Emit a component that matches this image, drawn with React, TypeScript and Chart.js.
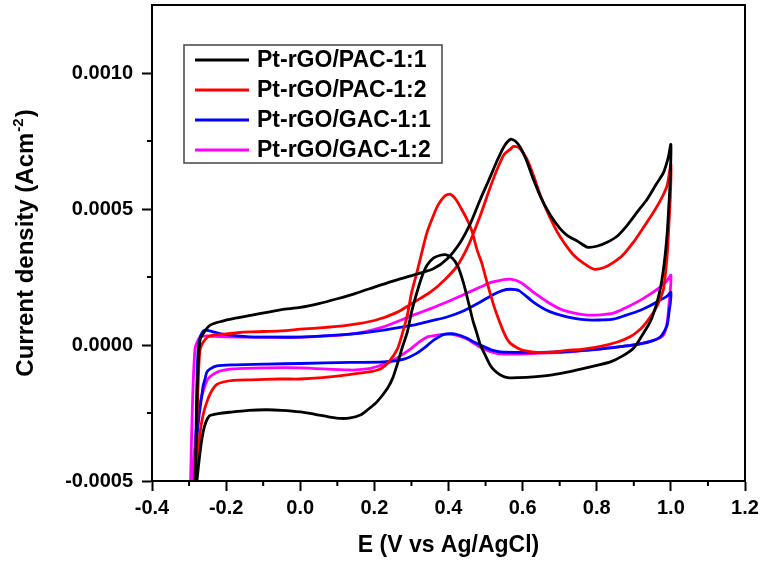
import { useEffect, useRef } from "react";
import { Chart, registerables } from "chart.js";

Chart.register(...registerables);

const FONT = '"Liberation Sans", Arial, sans-serif';

const seriesLabels = ["Pt-rGO/PAC-1:1", "Pt-rGO/PAC-1:2", "Pt-rGO/GAC-1:1", "Pt-rGO/GAC-1:2"];
const seriesColors = ["#000000", "#ff0000", "#0000ff", "#ff00ff"];

const xTicks = [-0.4, -0.2, 0.0, 0.2, 0.4, 0.6, 0.8, 1.0, 1.2];
const xMinor = [-0.3, -0.1, 0.1, 0.3, 0.5, 0.7, 0.9, 1.1];
const yTicks = [-0.0005, 0.0, 0.0005, 0.001];
const yMinor = [-0.00025, 0.00025, 0.00075];

// E in V vs Ag/AgCl, j in A cm^-2 ; forward scan then reverse scan
const pac11FwdE = [-0.29, -0.283, -0.278, -0.275, -0.27, -0.258, -0.243, -0.21, -0.181, -0.13, -0.09, -0.05, 0.0, 0.05, 0.1, 0.15, 0.2, 0.25, 0.305, 0.359, 0.396, 0.432, 0.46, 0.486, 0.51, 0.532, 0.55, 0.567, 0.58, 0.594, 0.61, 0.629, 0.65, 0.675, 0.7, 0.72, 0.75, 0.774, 0.8, 0.828, 0.855, 0.882, 0.91, 0.936, 0.96, 0.98, 0.993, 1.0];
const pac11FwdJ = [-0.0008, -0.0005, -0.00016, -0.00006, 0.00002, 0.00005, 0.000073, 0.000088, 0.000097, 0.00011, 0.00012, 0.00013, 0.000138, 0.000152, 0.00017, 0.00019, 0.000213, 0.000235, 0.000257, 0.00028, 0.000316, 0.000378, 0.00045, 0.000536, 0.00061, 0.00068, 0.00073, 0.000756, 0.00075, 0.000726, 0.00068, 0.000609, 0.00054, 0.000477, 0.00043, 0.000403, 0.00038, 0.00036, 0.000363, 0.000378, 0.0004, 0.00044, 0.00049, 0.000536, 0.00059, 0.000634, 0.00069, 0.000737];
const pac11RevE = [0.998, 0.994, 0.99, 0.982, 0.972, 0.96, 0.945, 0.92, 0.899, 0.87, 0.837, 0.8, 0.76, 0.72, 0.68, 0.629, 0.59, 0.56, 0.54, 0.525, 0.513, 0.5, 0.486, 0.475, 0.467, 0.455, 0.44, 0.425, 0.41, 0.392, 0.378, 0.36, 0.342, 0.328, 0.315, 0.3, 0.289, 0.275, 0.262, 0.25, 0.235, 0.207, 0.18, 0.162, 0.135, 0.11, 0.08, 0.04, 0.0, -0.05, -0.09, -0.14, -0.181, -0.21, -0.232, -0.245, -0.255, -0.262, -0.268, -0.275, -0.282, -0.29];
const pac11RevJ = [0.0006, 0.0005, 0.00041, 0.0003, 0.00021, 0.000145, 0.000088, 0.00003, -0.000012, -0.00004, -0.000062, -0.000075, -0.000088, -0.0001, -0.00011, -0.000117, -0.00012, -0.00012, -0.00011, -0.000095, -0.000075, -0.00004, 0.0, 0.00005, 0.000084, 0.00015, 0.00023, 0.00029, 0.00032, 0.000332, 0.00033, 0.00032, 0.000293, 0.00025, 0.000194, 0.00012, 0.000048, -0.00001, -0.00007, -0.00012, -0.00016, -0.000209, -0.00024, -0.000257, -0.000268, -0.00027, -0.000265, -0.000255, -0.000246, -0.00024, -0.000238, -0.00024, -0.000246, -0.00025, -0.000255, -0.00026, -0.000285, -0.00032, -0.00037, -0.00045, -0.00055, -0.0008];

const pac12FwdE = [-0.292, -0.284, -0.278, -0.274, -0.27, -0.262, -0.249, -0.23, -0.208, -0.17, -0.135, -0.054, 0.0, 0.07, 0.13, 0.2, 0.261, 0.31, 0.351, 0.39, 0.423, 0.455, 0.486, 0.51, 0.531, 0.55, 0.567, 0.575, 0.59, 0.612, 0.63, 0.648, 0.67, 0.694, 0.715, 0.738, 0.765, 0.792, 0.82, 0.845, 0.87, 0.899, 0.925, 0.953, 0.975, 0.99, 1.0];
const pac12FwdJ = [-0.0008, -0.0005, -0.00025, -0.00009, -0.000015, 0.00001, 0.00003, 0.000037, 0.00004, 0.000045, 0.000048, 0.000052, 0.000058, 0.000065, 0.000073, 0.00009, 0.00012, 0.00016, 0.000194, 0.00024, 0.00029, 0.00037, 0.000477, 0.00057, 0.000645, 0.0007, 0.00072, 0.00073, 0.000725, 0.000682, 0.00062, 0.00055, 0.00048, 0.000414, 0.00037, 0.00033, 0.0003, 0.000279, 0.000285, 0.000304, 0.00033, 0.000378, 0.00043, 0.000488, 0.00054, 0.000587, 0.000664];
const pac12RevE = [0.999, 0.995, 0.99, 0.98, 0.965, 0.953, 0.935, 0.918, 0.89, 0.856, 0.81, 0.764, 0.72, 0.675, 0.63, 0.602, 0.585, 0.568, 0.558, 0.548, 0.531, 0.521, 0.504, 0.49, 0.477, 0.463, 0.45, 0.435, 0.42, 0.405, 0.39, 0.372, 0.357, 0.342, 0.328, 0.315, 0.3, 0.289, 0.275, 0.262, 0.24, 0.216, 0.18, 0.126, 0.06, 0.0, -0.054, -0.135, -0.18, -0.208, -0.225, -0.235, -0.245, -0.252, -0.258, -0.262, -0.268, -0.274, -0.281, -0.29];
const pac12RevJ = [0.00056, 0.00045, 0.00033, 0.000205, 0.00015, 0.00012, 0.000085, 0.000059, 0.00003, 0.000011, -0.000005, -0.000015, -0.00002, -0.000026, -0.000026, -0.00002, -0.00001, 0.000005, 0.000022, 0.00005, 0.00011, 0.00015, 0.00023, 0.0003, 0.00035, 0.00042, 0.000462, 0.0005, 0.000535, 0.000554, 0.000548, 0.000515, 0.000468, 0.000414, 0.00034, 0.000268, 0.00019, 0.00011, 0.00004, -0.000015, -0.00006, -0.000088, -0.0001, -0.00011, -0.00012, -0.000125, -0.000125, -0.000128, -0.00013, -0.000136, -0.000145, -0.00016, -0.000185, -0.00021, -0.000235, -0.000257, -0.0003, -0.00037, -0.0005, -0.0008];

const gac11FwdE = [-0.29, -0.284, -0.279, -0.276, -0.272, -0.265, -0.257, -0.245, -0.225, -0.2, -0.181, -0.14, -0.09, 0.0, 0.135, 0.2, 0.305, 0.35, 0.396, 0.44, 0.486, 0.52, 0.545, 0.567, 0.59, 0.629, 0.665, 0.702, 0.74, 0.774, 0.81, 0.845, 0.88, 0.918, 0.945, 0.971, 0.99, 1.0];
const gac11FwdJ = [-0.0008, -0.0005, -0.00015, -0.00003, 0.00002, 0.000045, 0.000055, 0.000052, 0.000045, 0.000038, 0.000035, 0.00003, 0.000029, 0.000029, 0.00004, 0.00005, 0.000073, 0.000088, 0.000103, 0.000125, 0.000158, 0.000185, 0.0002, 0.000205, 0.0002, 0.000158, 0.000128, 0.00011, 0.000098, 0.000092, 0.000092, 0.000095, 0.00011, 0.000128, 0.000145, 0.000165, 0.00018, 0.000194];
const gac11RevE = [0.999, 0.995, 0.99, 0.98, 0.971, 0.95, 0.918, 0.87, 0.81, 0.74, 0.675, 0.6, 0.54, 0.515, 0.494, 0.47, 0.45, 0.432, 0.41, 0.386, 0.36, 0.34, 0.315, 0.28, 0.224, 0.135, 0.0, -0.09, -0.181, -0.225, -0.243, -0.252, -0.257, -0.262, -0.265, -0.269, -0.273, -0.279, -0.288];
const gac11RevJ = [0.00016, 0.00012, 0.000073, 0.000045, 0.000029, 0.000015, 0.000004, -0.000005, -0.000015, -0.000022, -0.000026, -0.000027, -0.000025, -0.000018, -0.000005, 0.00001, 0.000025, 0.000035, 0.000042, 0.000038, 0.000018, -0.000005, -0.00003, -0.000052, -0.000062, -0.000064, -0.000068, -0.00007, -0.000073, -0.000077, -0.000088, -0.0001, -0.000125, -0.00015, -0.00018, -0.00022, -0.00026, -0.00035, -0.0008];

const gac12FwdE = [-0.3, -0.296, -0.29, -0.284, -0.278, -0.27, -0.26, -0.249, -0.2, -0.135, 0.0, 0.135, 0.22, 0.305, 0.35, 0.396, 0.44, 0.486, 0.515, 0.54, 0.567, 0.595, 0.629, 0.665, 0.702, 0.74, 0.774, 0.81, 0.845, 0.88, 0.918, 0.945, 0.971, 0.99, 1.0];
const gac12FwdJ = [-0.0008, -0.0005, -0.00018, -0.000015, 0.000012, 0.000029, 0.000033, 0.000033, 0.00003, 0.000029, 0.000029, 0.00004, 0.000065, 0.00011, 0.000133, 0.000158, 0.000185, 0.000213, 0.00023, 0.000238, 0.000242, 0.00023, 0.000194, 0.00016, 0.000132, 0.000117, 0.00011, 0.000111, 0.000117, 0.000138, 0.000165, 0.000188, 0.000213, 0.000237, 0.000257];
const gac12RevE = [0.999, 0.995, 0.99, 0.98, 0.96, 0.936, 0.9, 0.856, 0.8, 0.72, 0.65, 0.594, 0.54, 0.515, 0.494, 0.47, 0.45, 0.42, 0.396, 0.37, 0.342, 0.32, 0.297, 0.27, 0.243, 0.21, 0.18, 0.135, 0.0, -0.09, -0.181, -0.225, -0.249, -0.262, -0.27, -0.275, -0.282, -0.288, -0.298];
const gac12RevJ = [0.00021, 0.00015, 0.000084, 0.000037, 0.00002, 0.000011, 0.0, -0.000007, -0.000015, -0.000026, -0.00003, -0.000033, -0.000033, -0.000025, -0.000015, 0.000005, 0.000022, 0.000036, 0.00004, 0.000036, 0.000029, 0.00001, -0.000015, -0.00004, -0.000062, -0.000078, -0.000088, -0.000092, -0.000084, -0.000084, -0.000088, -0.0001, -0.000125, -0.00017, -0.00021, -0.000257, -0.00033, -0.00045, -0.0008];

const seriesE = [
  [...pac11FwdE, ...pac11RevE],
  [...pac12FwdE, ...pac12RevE],
  [...gac11FwdE, ...gac11RevE],
  [...gac12FwdE, ...gac12RevE],
];
const seriesJ = [
  [...pac11FwdJ, ...pac11RevJ],
  [...pac12FwdJ, ...pac12RevJ],
  [...gac11FwdJ, ...gac11RevJ],
  [...gac12FwdJ, ...gac12RevJ],
];

const framePlugin = {
  id: "frame",
  afterDraw(chart: any) {
    const { ctx, chartArea: a, scales } = chart;
    ctx.save();
    ctx.strokeStyle = "#000";
    ctx.lineWidth = 2;
    ctx.strokeRect(a.left, a.top, a.right - a.left, a.bottom - a.top);

    // minor ticks
    ctx.beginPath();
    xMinor.forEach((v) => {
      const px = scales.x.getPixelForValue(v);
      ctx.moveTo(px, a.bottom);
      ctx.lineTo(px, a.bottom + 5);
    });
    yMinor.forEach((v) => {
      const py = scales.y.getPixelForValue(v);
      ctx.moveTo(a.left, py);
      ctx.lineTo(a.left - 5, py);
    });
    ctx.stroke();

    // axis titles
    ctx.fillStyle = "#000";
    ctx.textAlign = "center";
    ctx.textBaseline = "middle";
    ctx.font = `bold 23px ${FONT}`;
    ctx.fillText("E (V vs Ag/AgCl)", (a.left + a.right) / 2, 546);

    ctx.save();
    ctx.translate(33, (a.top + a.bottom) / 2);
    ctx.rotate(-Math.PI / 2);
    const main = "Current density (Acm";
    const sup = "-2";
    const tail = ")";
    ctx.font = `bold 24px ${FONT}`;
    const w1 = ctx.measureText(main).width;
    const w3 = ctx.measureText(tail).width;
    ctx.font = `bold 15px ${FONT}`;
    const w2 = ctx.measureText(sup).width;
    const x0 = -(w1 + w2 + w3 + 2) / 2;
    ctx.textAlign = "left";
    ctx.textBaseline = "alphabetic";
    ctx.font = `bold 24px ${FONT}`;
    ctx.fillText(main, x0, 0);
    ctx.font = `bold 15px ${FONT}`;
    ctx.fillText(sup, x0 + w1 + 1, -10);
    ctx.font = `bold 24px ${FONT}`;
    ctx.fillText(tail, x0 + w1 + w2 + 2, 0);
    ctx.restore();

    // legend
    ctx.fillStyle = "#fff";
    ctx.fillRect(184, 45, 258, 118);
    ctx.strokeStyle = "#444";
    ctx.lineWidth = 1.5;
    ctx.strokeRect(184, 45, 258, 118);
    ctx.font = `bold 23px ${FONT}`;
    ctx.textAlign = "left";
    ctx.textBaseline = "middle";
    seriesLabels.forEach((label, i) => {
      const y = 60 + i * 30;
      ctx.strokeStyle = seriesColors[i];
      ctx.lineWidth = 3;
      ctx.beginPath();
      ctx.moveTo(195, y);
      ctx.lineTo(249, y);
      ctx.stroke();
      ctx.fillStyle = "#000";
      ctx.fillText(label, 257, y + 1);
    });
    ctx.restore();
  },
};

export default function App() {
  const canvasRef = useRef<HTMLCanvasElement | null>(null);

  useEffect(() => {
    if (!canvasRef.current) return;
    const tickFont = { family: FONT, size: 20, weight: "bold" as const };
    const chart = new Chart(canvasRef.current, {
      type: "scatter",
      data: {
        datasets: seriesLabels.map((label, i) => ({
          label,
          data: seriesE[i].map((e, k) => ({ x: e, y: seriesJ[i][k] })),
          showLine: true,
          borderColor: seriesColors[i],
          backgroundColor: seriesColors[i],
          borderWidth: 2.8,
          pointRadius: 0,
          tension: 0.25,
          fill: false,
        })),
      },
      options: {
        animation: false,
        responsive: true,
        maintainAspectRatio: false,
        events: [],
        layout: { padding: { top: 5, right: 17, left: 0, bottom: 0 } },
        plugins: { legend: { display: false }, tooltip: { enabled: false } },
        scales: {
          x: {
            type: "linear",
            min: -0.4,
            max: 1.2,
            afterBuildTicks: (s: any) => {
              s.ticks = xTicks.map((value) => ({ value }));
            },
            afterFit: (s: any) => {
              s.height = 81;
              s.paddingLeft = 0;
              s.paddingRight = 0;
            },
            ticks: {
              color: "#000",
              font: tickFont,
              padding: 5,
              maxRotation: 0,
              callback: (v: any) => (Math.abs(Number(v)) < 1e-9 ? 0 : Number(v)).toFixed(1),
            },
            grid: { drawOnChartArea: false, drawTicks: true, tickLength: 10, tickColor: "#000", tickWidth: 2 },
            border: { color: "#000", width: 2 },
          },
          y: {
            type: "linear",
            min: -0.0005,
            max: 0.00125,
            afterBuildTicks: (s: any) => {
              s.ticks = yTicks.map((value) => ({ value }));
            },
            afterFit: (s: any) => {
              s.width = 152;
              s.paddingTop = 0;
              s.paddingBottom = 0;
            },
            ticks: {
              color: "#000",
              font: tickFont,
              padding: 9,
              callback: (v: any) => (Math.abs(Number(v)) < 1e-12 ? 0 : Number(v)).toFixed(4),
            },
            grid: { drawOnChartArea: false, drawTicks: true, tickLength: 10, tickColor: "#000", tickWidth: 2 },
            border: { color: "#000", width: 2 },
          },
        },
      },
      plugins: [framePlugin],
    });
    return () => chart.destroy();
  }, []);

  return (
    <div style={{ position: "absolute", left: 0, top: 0, width: 762, height: 562, background: "#fff" }}>
      <canvas ref={canvasRef} />
    </div>
  );
}
